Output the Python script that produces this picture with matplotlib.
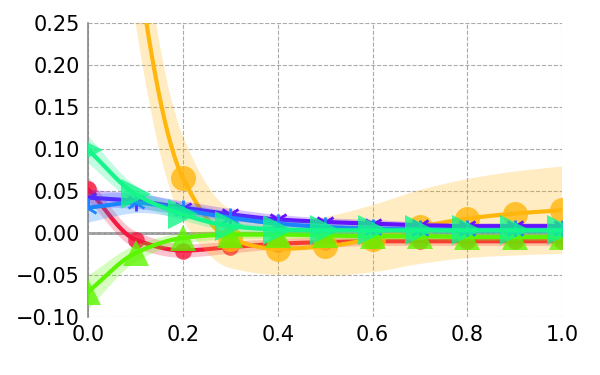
import numpy as np
import matplotlib
matplotlib.use("Agg")
import matplotlib.pyplot as plt

x = [0.0, 0.1, 0.2, 0.3, 0.4, 0.5, 0.6, 0.7, 0.8, 0.9, 1.0]

red = [0.052, -0.008, -0.021, -0.017, -0.013, -0.011, -0.010, -0.010, -0.010, -0.010, -0.010]
red_err = [0.014, 0.010, 0.008, 0.007, 0.006, 0.006, 0.005, 0.005, 0.005, 0.005, 0.005]
orange = [1.3, 0.34, 0.065, -0.007, -0.019, -0.016, -0.007, 0.007, 0.017, 0.023, 0.027]
orange_err = [0.3, 0.09, 0.05, 0.035, 0.031, 0.035, 0.04, 0.044, 0.047, 0.05, 0.052]
lime = [-0.070, -0.024, -0.006, -0.002, -0.002, -0.003, -0.004, -0.004, -0.005, -0.005, -0.005]
lime_err = [0.02, 0.01, 0.006, 0.005, 0.004, 0.004, 0.004, 0.004, 0.004, 0.004, 0.004]
purple = [0.042, 0.038, 0.030, 0.022, 0.016, 0.013, 0.011, 0.009, 0.008, 0.008, 0.008]
purple_err = [0.01, 0.009, 0.008, 0.007, 0.006, 0.005, 0.005, 0.004, 0.004, 0.004, 0.004]
blue = [0.030, 0.036, 0.027, 0.018, 0.011, 0.007, 0.005, 0.004, 0.003, 0.003, 0.003]
blue_err = [0.017, 0.012, 0.009, 0.007, 0.006, 0.005, 0.004, 0.004, 0.004, 0.004, 0.004]
spring = [0.099, 0.046, 0.022, 0.008, 0.004, 0.003, 0.003, 0.003, 0.003, 0.003, 0.003]
spring_err = [0.016, 0.01, 0.007, 0.005, 0.004, 0.004, 0.004, 0.004, 0.004, 0.004, 0.004]

xticks = [0.0, 0.2, 0.4, 0.6, 0.8, 1.0]
yticks = [-0.10, -0.05, 0.00, 0.05, 0.10, 0.15, 0.20, 0.25]


def pchip(xs, ys, xd):
    xs = np.asarray(xs, float); ys = np.asarray(ys, float)
    h = np.diff(xs); d = np.diff(ys) / h
    n = len(xs); m = np.zeros(n)
    for k in range(1, n - 1):
        if d[k - 1] * d[k] > 0:
            w1 = 2 * h[k] + h[k - 1]; w2 = h[k] + 2 * h[k - 1]
            m[k] = (w1 + w2) / (w1 / d[k - 1] + w2 / d[k])
    m[0] = d[0]; m[-1] = d[-1]
    idx = np.clip(np.searchsorted(xs, xd) - 1, 0, n - 2)
    t = (xd - xs[idx]) / h[idx]
    h00 = 2 * t**3 - 3 * t**2 + 1; h10 = t**3 - 2 * t**2 + t
    h01 = -2 * t**3 + 3 * t**2; h11 = t**3 - t**2
    return h00 * ys[idx] + h10 * h[idx] * m[idx] + h01 * ys[idx + 1] + h11 * h[idx] * m[idx + 1]


fig = plt.figure(figsize=(6, 3.75), dpi=100)
ax = fig.add_axes([0.147, 0.155, 0.79, 0.784])

xd = np.linspace(0, 1, 400)

series = [
    (red, red_err, '#f5173f', 'o', 12, 'full'),
    (orange, orange_err, '#ffb60d', 'o', 18, 'full'),
    (lime, lime_err, '#5cf500', '^', 19, 'full'),
    (purple, purple_err, '#6412ff', '1', 14, 'tri'),
    (blue, blue_err, '#1a85ff', '2', 14, 'tri'),
    (spring, spring_err, '#14f58a', '>', 22, 'full'),
]

for i, (ys, err, c, mk, ms, kind) in enumerate(series):
    yd = pchip(x, ys, xd)
    ed = pchip(x, err, xd)
    ax.fill_between(xd, yd - ed, yd + ed, color=c, alpha=0.25, lw=0, zorder=2 + i)
    ax.plot(xd, yd, color=c, lw=3, zorder=3 + i, solid_capstyle='round')
    if kind == 'tri':
        ax.plot(x, ys, ls='none', marker=mk, ms=ms, mew=2, color=c, zorder=3 + i)
    else:
        ax.plot(x, ys, ls='none', marker=mk, ms=ms, color=c, alpha=0.8, mew=0, zorder=3 + i)

ax.axhline(0, color='#888888', lw=1.8, zorder=1.5)
ax.set_xlim(0, 1)
ax.set_ylim(-0.10, 0.25)
ax.set_xticks(xticks)
ax.set_yticks(yticks)
ax.set_xticklabels([f"{v:.1f}" for v in xticks])
ax.set_yticklabels([f"{v:.2f}".replace('-', '\u2212') for v in yticks])
ax.tick_params(length=0, labelsize=15, pad=6)
ax.grid(True, ls='--', color='#aaaaaa', lw=0.8, zorder=0)
for s in ['top', 'right', 'bottom']:
    ax.spines[s].set_visible(False)
ax.spines['left'].set_color('#888888')
ax.spines['left'].set_linewidth(1.2)

fig.savefig('out.png', dpi=100)
